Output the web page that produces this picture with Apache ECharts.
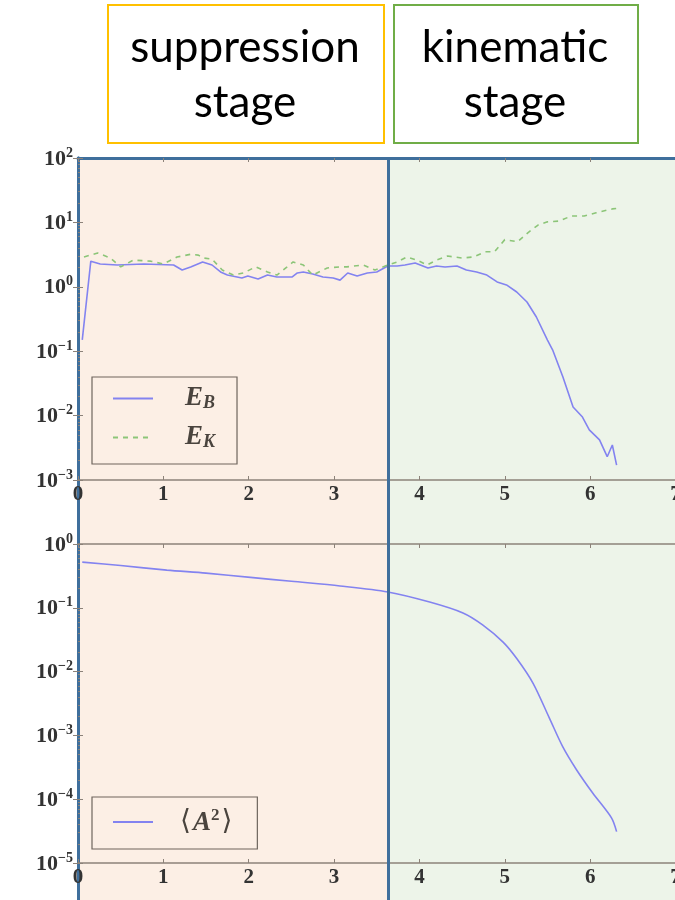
<!DOCTYPE html>
<html>
<head>
<meta charset="utf-8">
<script src="https://cdn.jsdelivr.net/npm/echarts@6/dist/echarts.min.js"></script>
<style>
html, body { margin: 0; padding: 0; background: #fff; }
#chart { width: 675px; height: 900px; }
</style>
</head>
<body>
<div id="chart"></div>
<script>
// stage split (time) and the two stage names
const stageBoundary = 3.63;
const stageNames = ['suppression\nstage', 'kinematic\nstage'];

// magnetic energy E_B
const ebTime = [0.05, 0.15, 0.26, 0.46, 0.77, 1.12, 1.22, 1.32, 1.46, 1.57, 1.67, 1.75, 1.92, 1.99, 2.11, 2.22, 2.33, 2.51, 2.57, 2.64, 2.75, 2.87, 2.99, 3.07, 3.16, 3.27, 3.39, 3.50, 3.63, 3.74, 3.83, 3.95, 4.10, 4.20, 4.30, 4.44, 4.55, 4.67, 4.79, 4.91, 5.02, 5.14, 5.26, 5.37, 5.50, 5.56, 5.68, 5.80, 5.91, 5.99, 6.11, 6.20, 6.26, 6.31];
const ebValue = [0.15, 2.5, 2.26, 2.18, 2.26, 2.18, 1.82, 2.03, 2.43, 2.18, 1.70, 1.52, 1.37, 1.47, 1.32, 1.52, 1.42, 1.42, 1.64, 1.70, 1.58, 1.42, 1.37, 1.27, 1.64, 1.47, 1.64, 1.70, 2.10, 2.10, 2.18, 2.34, 1.96, 2.10, 2.03, 2.10, 1.82, 1.70, 1.52, 1.19, 1.07, 0.83, 0.58, 0.34, 0.149, 0.105, 0.040, 0.0136, 0.0095, 0.006, 0.0042, 0.0023, 0.0035, 0.0017];

// kinetic energy E_K
const ekTime = [0.07, 0.23, 0.38, 0.5, 0.65, 0.85, 1.0, 1.16, 1.32, 1.41, 1.47, 1.57, 1.69, 1.82, 1.94, 2.08, 2.22, 2.33, 2.45, 2.52, 2.64, 2.75, 2.92, 3.07, 3.15, 3.34, 3.48, 3.63, 3.74, 3.85, 3.97, 4.09, 4.2, 4.33, 4.5, 4.63, 4.77, 4.88, 5.0, 5.15, 5.27, 5.39, 5.5, 5.64, 5.78, 5.93, 6.07, 6.26, 6.31];
const ekValue = [2.9, 3.35, 2.8, 2.04, 2.6, 2.5, 2.26, 2.9, 3.2, 3.1, 2.8, 2.7, 1.82, 1.52, 1.64, 2.04, 1.70, 1.52, 2.04, 2.43, 2.18, 1.52, 1.96, 2.04, 2.04, 2.18, 1.82, 2.18, 2.43, 2.9, 2.6, 2.18, 2.6, 3.0, 2.8, 2.9, 3.5, 3.5, 5.4, 5.0, 6.9, 9.1, 10.2, 10.5, 12.6, 12.6, 14.1, 16.2, 16.5];

// <A^2>
const a2Time = [0.05, 0.5, 1.04, 1.5, 2.02, 2.5, 3.07, 3.63, 4.12, 4.51, 4.74, 4.98, 5.14, 5.33, 5.52, 5.68, 5.84, 6.03, 6.25, 6.31];
const a2Value = [0.52, 0.46, 0.39, 0.35, 0.30, 0.26, 0.22, 0.177, 0.123, 0.083, 0.054, 0.029, 0.016, 0.0066, 0.0019, 0.00066, 0.00029, 0.000125, 0.000051, 0.000031];

// axis ranges
const xMin = 0, xMax = 7;
const topYRange = [1e-3, 1e2];
const botYRange = [1e-5, 1e0];

const pairs = (t, v) => t.map((x, i) => [x, v[i]]);

const blue = '#3f6f9c';
const gray = '#8c8279';
const serif = 'Liberation Serif';

const chart = echarts.init(document.getElementById('chart'));

function expLabel(v) {
    const e = Math.round(Math.log10(v));
    return '{b|10}{s|' + (e < 0 ? '\u2212' + (-e) : e) + '}';
}

const yRich = {
    b: { fontFamily: serif, fontWeight: 'bold', fontSize: 22, color: '#333', lineHeight: 24, verticalAlign: 'bottom' },
    s: { fontFamily: serif, fontWeight: 'bold', fontSize: 14, color: '#333', lineHeight: 24, verticalAlign: 'top' }
};

function xAxes(grid, topColor, topWidth) {
    return [
        {
            gridIndex: grid, type: 'value', min: xMin, max: xMax, interval: 1, position: 'bottom',
            axisLine: { lineStyle: { color: gray, width: 1.5 } },
            axisTick: { inside: true, length: 4, lineStyle: { color: gray } },
            axisLabel: { fontFamily: serif, fontWeight: 'bold', fontSize: 21, color: '#333', margin: 4 },
            splitLine: { show: false }
        },
        {
            gridIndex: grid, type: 'value', min: xMin, max: xMax, interval: 1, position: 'top',
            axisLine: { lineStyle: { color: topColor, width: topWidth } },
            axisTick: { inside: true, length: 4, lineStyle: { color: gray } },
            axisLabel: { show: false },
            splitLine: { show: false }
        }
    ];
}

function yAxes(grid, range) {
    return [
        {
            gridIndex: grid, type: 'log', logBase: 10, min: range[0], max: range[1], position: 'left',
            axisLine: { show: true, lineStyle: { color: blue, width: 3 } },
            axisTick: { inside: true, length: 5, lineStyle: { color: gray } },
            minorTick: { show: true, splitNumber: 9, length: 2, lineStyle: { color: gray } },
            axisLabel: { formatter: expLabel, rich: yRich, margin: 5 },
            splitLine: { show: false }
        },
        {
            gridIndex: grid, type: 'log', logBase: 10, min: range[0], max: range[1], position: 'right',
            axisLine: { show: false },
            axisTick: { inside: true, length: 5, lineStyle: { color: gray } },
            axisLabel: { show: false },
            splitLine: { show: false }
        }
    ];
}

const legendText = { fontFamily: serif, fontWeight: 'bold', fontStyle: 'italic', color: '#4a443e' };

const option = {
    animation: false,
    grid: [
        { left: 78, width: 597.5, top: 158, height: 322, outerBoundsMode: 'none' },
        { left: 78, width: 597.5, top: 544, height: 319, outerBoundsMode: 'none' },
        { left: 78, width: 597.5, top: 158, bottom: 0, outerBoundsMode: 'none' }
    ],
    xAxis: [
        ...xAxes(0, blue, 3),
        ...xAxes(1, gray, 1.5),
        { gridIndex: 2, type: 'value', min: xMin, max: xMax, show: false }
    ],
    yAxis: [
        ...yAxes(0, topYRange),
        ...yAxes(1, botYRange),
        {
            gridIndex: 2, type: 'value', min: 0, max: 1,
            axisLine: { show: true, lineStyle: { color: blue, width: 3 } },
            axisTick: { show: false }, axisLabel: { show: false }, splitLine: { show: false }
        }
    ],
    legend: [
        {
            data: ['E_B', 'E_K'], orient: 'vertical', left: 92, top: 377,
            itemWidth: 40, itemHeight: 10, itemGap: 12,
            padding: [8, 22, 13, 20],
            itemStyle: { opacity: 0 },
            borderColor: '#6e655d', borderWidth: 1.2, borderRadius: 0,
            formatter: n => n === 'E_B' ? '{e|E}{u|B}' : '{e|E}{u|K}',
            textStyle: {
                rich: {
                    e: { ...legendText, fontSize: 27, lineHeight: 27, padding: [0, 0, 0, 27], verticalAlign: 'top' },
                    u: { ...legendText, fontSize: 18, lineHeight: 27, verticalAlign: 'bottom' }
                }
            }
        },
        {
            data: ['A2'], orient: 'vertical', left: 92, top: 797,
            itemWidth: 40, itemHeight: 10,
            padding: [10, 25, 12, 20],
            itemStyle: { opacity: 0 },
            borderColor: '#6e655d', borderWidth: 1.2, borderRadius: 0,
            formatter: () => '{q|\u27e8}{e|A}{u|2}{p|\u27e9}',
            textStyle: {
                rich: {
                    q: { fontFamily: 'DejaVu Serif', color: '#4a443e', fontSize: 28, lineHeight: 30, padding: [0, 2, 0, 22] },
                    p: { fontFamily: 'DejaVu Serif', color: '#4a443e', fontSize: 28, lineHeight: 30, padding: [0, 0, 0, 2] },
                    e: { ...legendText, fontSize: 27, lineHeight: 30, verticalAlign: 'bottom' },
                    u: { ...legendText, fontStyle: 'normal', fontSize: 17, lineHeight: 30, verticalAlign: 'top' }
                }
            }
        }
    ],
    graphic: [
        {
            type: 'rect', left: 107, top: 4, shape: { width: 276, height: 138 },
            style: { fill: '#fff', stroke: '#ffc000', lineWidth: 2 }
        },
        {
            type: 'text', x: 245, y: 75,
            style: { text: stageNames[0], font: '44px Lato', lineHeight: 55, fill: '#000', align: 'center', verticalAlign: 'middle' }
        },
        {
            type: 'rect', left: 393, top: 4, shape: { width: 244, height: 138 },
            style: { fill: '#fff', stroke: '#70ad47', lineWidth: 2 }
        },
        {
            type: 'text', x: 515, y: 75,
            style: { text: stageNames[1], font: '44px Lato', lineHeight: 55, fill: '#000', align: 'center', verticalAlign: 'middle' }
        }
    ],
    series: [
        {
            // stage shading
            type: 'line', xAxisIndex: 4, yAxisIndex: 4, data: [[0, 0]], symbol: 'none',
            lineStyle: { opacity: 0 }, z: -10, silent: true,
            markArea: {
                silent: true, z: -10,
                data: [
                    [{ xAxis: xMin, itemStyle: { color: '#fcefe5' } }, { xAxis: stageBoundary }],
                    [{ xAxis: stageBoundary, itemStyle: { color: '#edf4e9' } }, { xAxis: xMax }]
                ]
            }
        },
        {
            // stage boundary line
            type: 'line', xAxisIndex: 4, yAxisIndex: 4, data: [[0, 0]], symbol: 'none',
            lineStyle: { opacity: 0 }, z: 5, silent: true,
            markLine: {
                silent: true, symbol: 'none', label: { show: false },
                lineStyle: { color: blue, width: 3, type: 'solid' },
                data: [{ xAxis: stageBoundary }]
            }
        },
        {
            name: 'E_B', type: 'line', xAxisIndex: 0, yAxisIndex: 0,
            data: pairs(ebTime, ebValue), symbol: 'none',
            lineStyle: { color: '#8383f0', width: 1.6 }, itemStyle: { color: '#8383f0' }
        },
        {
            name: 'E_K', type: 'line', xAxisIndex: 0, yAxisIndex: 0,
            data: pairs(ekTime, ekValue), symbol: 'none',
            lineStyle: { color: '#8cc578', width: 1.6, type: [5, 5] }, itemStyle: { color: '#8cc578' }
        },
        {
            name: 'A2', type: 'line', xAxisIndex: 2, yAxisIndex: 2,
            data: pairs(a2Time, a2Value), symbol: 'none', smooth: 0.3,
            lineStyle: { color: '#8383f0', width: 1.6 }, itemStyle: { color: '#8383f0' }
        }
    ]
};

chart.setOption(option);
</script>
</body>
</html>
